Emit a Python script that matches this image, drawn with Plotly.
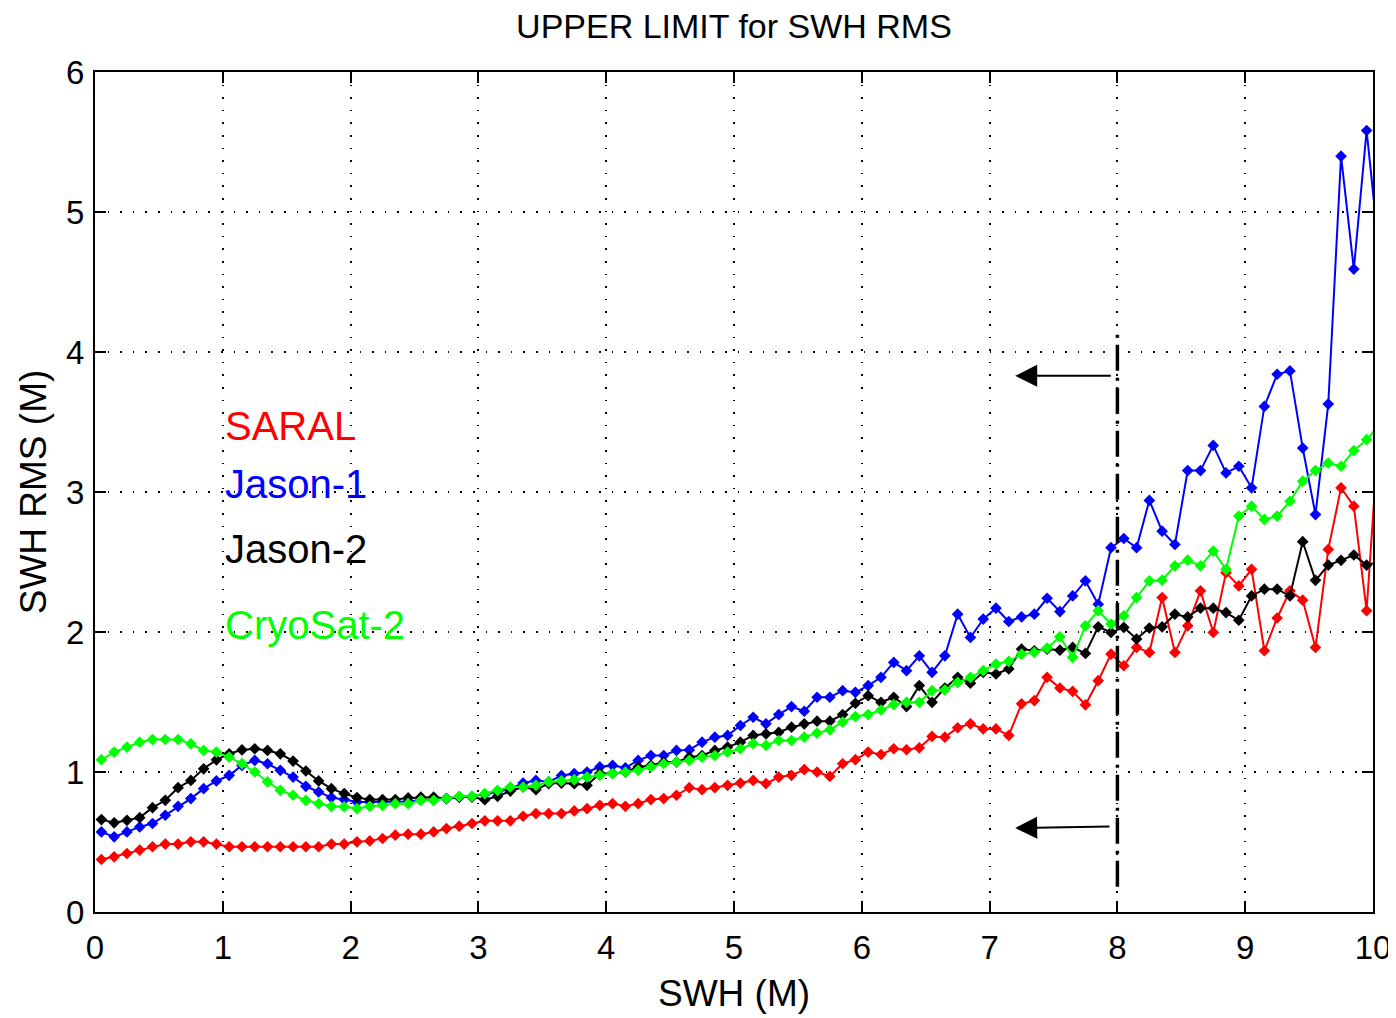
import plotly.graph_objects as go

# ---------------- data ----------------
SWH_BINS = [round(0.05 + 0.1 * i, 2) for i in range(101)]  # bin centres (m)

SARAL = [
    0.375, 0.394, 0.418, 0.442, 0.466, 0.485, 0.485, 0.501, 0.501, 0.485,
    0.466, 0.466, 0.466, 0.466, 0.466, 0.466, 0.466, 0.466, 0.485, 0.485,
    0.501, 0.508, 0.525, 0.549, 0.556, 0.556, 0.572, 0.596, 0.613, 0.632,
    0.651, 0.651, 0.651, 0.684, 0.703, 0.703, 0.703, 0.722, 0.738, 0.762,
    0.774, 0.755, 0.774, 0.803, 0.810, 0.834, 0.888, 0.874, 0.888, 0.905,
    0.921, 0.940, 0.917, 0.964, 0.976, 1.017, 1.000, 0.969, 1.059, 1.088,
    1.142, 1.125, 1.166, 1.159, 1.173, 1.254, 1.249, 1.316, 1.344, 1.308,
    1.308, 1.261, 1.487, 1.510, 1.676, 1.600, 1.576, 1.480, 1.652, 1.842,
    1.759, 1.890, 1.854, 2.246, 1.854, 2.044, 2.294, 1.997, 2.424, 2.329,
    2.448, 1.866, 2.100, 2.294, 2.227, 1.890, 2.590, 3.030, 2.899, 2.152,
    3.50,
]

JASON1 = [
    0.572, 0.537, 0.572, 0.608, 0.632, 0.691, 0.755, 0.810, 0.881, 0.936,
    0.976, 1.047, 1.083, 1.059, 1.012, 0.964, 0.898, 0.857, 0.817, 0.803,
    0.786, 0.786, 0.786, 0.790, 0.790, 0.800, 0.800, 0.810, 0.820, 0.825,
    0.840, 0.860, 0.880, 0.921, 0.940, 0.930, 0.975, 0.988, 1.000, 1.036,
    1.047, 1.030, 1.083, 1.118, 1.118, 1.154, 1.158, 1.213, 1.249, 1.261,
    1.332, 1.391, 1.344, 1.410, 1.467, 1.434, 1.534, 1.534, 1.581, 1.569,
    1.617, 1.676, 1.783, 1.724, 1.830, 1.712, 1.830, 2.127, 1.961, 2.092,
    2.170, 2.075, 2.108, 2.127, 2.241, 2.146, 2.258, 2.365, 2.198, 2.602,
    2.668, 2.602, 2.940, 2.720, 2.625, 3.153, 3.153, 3.333, 3.136, 3.184,
    3.030, 3.611, 3.841, 3.865, 3.314, 2.839, 3.628, 5.399, 4.592, 5.582,
    4.70,
]

JASON2 = [
    0.660, 0.637, 0.655, 0.674, 0.745, 0.798, 0.888, 0.940, 1.023, 1.087,
    1.130, 1.158, 1.166, 1.154, 1.130, 1.078, 1.007, 0.936, 0.881, 0.846,
    0.817, 0.803, 0.803, 0.803, 0.815, 0.820, 0.820, 0.810, 0.821, 0.821,
    0.802, 0.826, 0.864, 0.893, 0.874, 0.917, 0.921, 0.916, 0.905, 0.990,
    0.990, 1.000, 1.036, 1.047, 1.070, 1.070, 1.106, 1.118, 1.154, 1.178,
    1.213, 1.261, 1.272, 1.284, 1.320, 1.344, 1.363, 1.363, 1.410, 1.491,
    1.545, 1.498, 1.534, 1.467, 1.617, 1.498, 1.600, 1.676, 1.634, 1.712,
    1.700, 1.736, 1.878, 1.866, 1.878, 1.870, 1.890, 1.847, 2.037, 1.997,
    2.033, 1.950, 2.028, 2.037, 2.127, 2.108, 2.170, 2.170, 2.139, 2.084,
    2.258, 2.306, 2.306, 2.258, 2.645, 2.369, 2.478, 2.512, 2.550, 2.478,
    2.50,
]

CRYOSAT2 = [
    1.088, 1.142, 1.178, 1.213, 1.232, 1.232, 1.232, 1.201, 1.154, 1.142,
    1.106, 1.060, 1.000, 0.930, 0.869, 0.834, 0.798, 0.774, 0.755, 0.751,
    0.739, 0.755, 0.762, 0.774, 0.774, 0.798, 0.798, 0.810, 0.826, 0.826,
    0.845, 0.869, 0.893, 0.893, 0.905, 0.929, 0.936, 0.945, 0.964, 0.976,
    0.988, 1.000, 1.012, 1.036, 1.059, 1.070, 1.083, 1.106, 1.118, 1.142,
    1.166, 1.202, 1.190, 1.225, 1.225, 1.249, 1.278, 1.301, 1.356, 1.396,
    1.410, 1.443, 1.481, 1.498, 1.498, 1.581, 1.586, 1.640, 1.676, 1.724,
    1.771, 1.790, 1.842, 1.854, 1.885, 1.966, 1.819, 2.044, 2.152, 2.057,
    2.116, 2.246, 2.365, 2.370, 2.472, 2.513, 2.472, 2.578, 2.448, 2.828,
    2.899, 2.804, 2.828, 2.934, 3.077, 3.153, 3.207, 3.184, 3.295, 3.374,
    3.48,
]

SERIES_NAMES = ["SARAL", "Jason-1", "Jason-2", "CryoSat-2"]
SERIES_COLORS = ["#ff0000", "#0000ff", "#000000", "#00ff00"]
LABEL_Y = [3.47, 3.06, 2.59, 2.05]          # where the coloured labels sit

THRESHOLD_SWH = 8.0                          # vertical dash-dot line
THRESHOLD_SPAN = [0.18, 4.13]
ARROWS = [  # (tail x, tail y, head x, head y)
    (7.96, 3.83, 7.20, 3.83),
    (7.95, 0.61, 7.20, 0.60),
]

X_TICKS = list(range(0, 11))
Y_TICKS = list(range(0, 7))

FONT = "Liberation Sans, Arial, Helvetica, sans-serif"

# page body adds an 8px margin, so the figure is sized to fit inside it
FIG_W, FIG_H = 1388, 1010

# ---------------- figure ----------------
fig = go.Figure()
all_series = [SARAL, JASON1, JASON2, CRYOSAT2]
for name, ys, col in zip(SERIES_NAMES, all_series, SERIES_COLORS):
    fig.add_trace(go.Scatter(
        x=SWH_BINS, y=ys, mode="lines+markers", name=name,
        line=dict(color=col, width=2),
        marker=dict(symbol="diamond", size=9, color=col, line=dict(width=0)),
        showlegend=False, cliponaxis=True,
    ))

# threshold line
fig.add_shape(type="line", xref="x", yref="y",
              x0=THRESHOLD_SWH, x1=THRESHOLD_SWH,
              y0=THRESHOLD_SPAN[0], y1=THRESHOLD_SPAN[1],
              line=dict(color="black", width=3.5, dash="26px,7px,3px,7px"))

for tx, ty, hx, hy in ARROWS:
    fig.add_annotation(x=hx, y=hy, ax=tx, ay=ty, xref="x", yref="y",
                       axref="x", ayref="y", text="", showarrow=True,
                       arrowhead=2, arrowsize=2.2, arrowwidth=2,
                       arrowcolor="black", standoff=0)

for name, col, ly in zip(SERIES_NAMES, SERIES_COLORS, LABEL_Y):
    fig.add_annotation(x=1.0, y=ly, xref="x", yref="y", text=name,
                       showarrow=False, xanchor="left", yanchor="middle",
                       font=dict(family=FONT, size=40, color=col))

axis_common = dict(
    showline=True, linecolor="black", linewidth=2, mirror="ticks",
    ticks="inside", ticklen=11, tickwidth=1.5, tickcolor="black",
    showgrid=True, gridcolor="black", gridwidth=1.6, griddash="1.6px,11px",
    zeroline=False, tickfont=dict(family=FONT, size=33, color="black"),
)

fig.update_xaxes(range=[0, 10], tickvals=X_TICKS, ticktext=[str(v) for v in X_TICKS],
                 title=dict(text="SWH (M)", font=dict(family=FONT, size=37, color="black"),
                            standoff=16),
                 ticklabelstandoff=5, **axis_common)
fig.update_yaxes(range=[0, 6], tickvals=Y_TICKS, ticktext=[str(v) for v in Y_TICKS],
                 title=dict(text="SWH RMS (M)", font=dict(family=FONT, size=37, color="black"),
                            standoff=8),
                 ticklabelstandoff=2, **axis_common)

fig.update_layout(
    width=FIG_W, height=FIG_H,
    margin=dict(l=87, r=23, t=64, b=106, autoexpand=False),
    paper_bgcolor="white", plot_bgcolor="white",
    title=dict(text="UPPER LIMIT for SWH RMS", x=0.5, xref="paper",
               y=1 - 18 / FIG_H, yref="container", xanchor="center", yanchor="middle",
               font=dict(family=FONT, size=34, color="black")),
    font=dict(family=FONT, color="black"),
)

fig.write_html("out.html")
